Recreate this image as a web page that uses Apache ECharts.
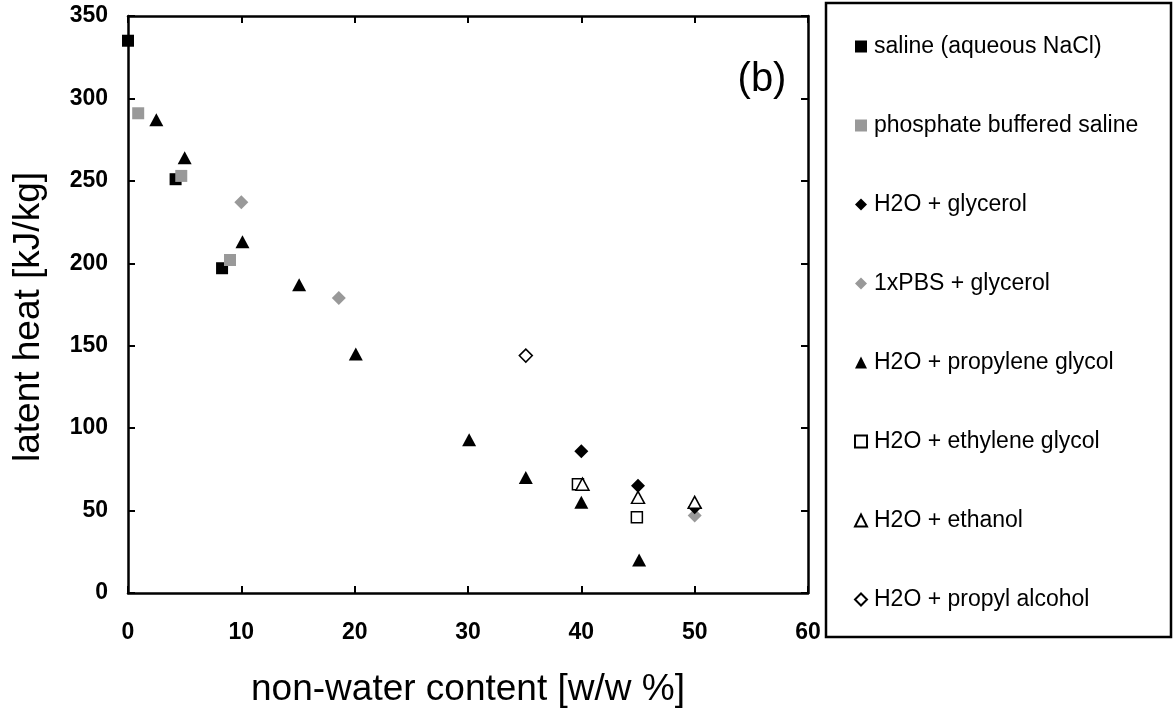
<!DOCTYPE html>
<html>
<head>
<meta charset="utf-8">
<script src="https://cdn.jsdelivr.net/npm/echarts@6/dist/echarts.min.js"></script>
<style>
  html, body { margin: 0; padding: 0; background: #fff; }
  #chart { width: 1176px; height: 712px; }
</style>
</head>
<body>
<div id="chart"></div>
<script>
// Latent heat of aqueous solutions vs. non-water content
const xTicks = [0, 10, 20, 30, 40, 50, 60];
const yTicks = [0, 50, 100, 150, 200, 250, 300, 350];

const saline = [[0, 335], [4.2, 251], [8.3, 197]];
const pbs = [[0.9, 291], [4.7, 253], [9.0, 202]];
const waterGlycerol = [[40, 86], [45, 65], [50, 52]];
const pbsGlycerol = [[10, 237], [18.6, 179], [50, 47]];
const propyleneGlycol = [[2.5, 287], [5, 264], [10.1, 213], [15.1, 187], [20.1, 145], [30.1, 93], [35.1, 70], [40, 55], [45.1, 20]];
const ethyleneGlycol = [[39.7, 66], [44.9, 46]];
const ethanol = [[40.1, 66], [45, 58], [50, 55]];
const propylAlcohol = [[35.1, 144]];

const seriesNames = [
  'saline (aqueous NaCl)',
  'phosphate buffered saline',
  'H2O + glycerol',
  '1xPBS + glycerol',
  'H2O + propylene glycol',
  'H2O + ethylene glycol',
  'H2O + ethanol',
  'H2O + propyl alcohol'
];

const FONT = '"Liberation Sans", Arial, sans-serif';
const GRID = { left: 128, right: 1176 - 808, top: 16, bottom: 712 - 593 };
const tickFont = { color: '#000', fontFamily: FONT, fontWeight: 'bold', fontSize: 23 };

function scatter(name, data, symbol, size, fill, stroke, sw) {
  return {
    name: name,
    type: 'scatter',
    data: data,
    symbol: symbol,
    symbolSize: size,
    itemStyle: { color: fill, borderColor: stroke || fill, borderWidth: sw || 0, opacity: 1 },
    emphasis: { disabled: true }
  };
}

const axisLine = { show: true, onZero: false, lineStyle: { color: '#000', width: 2.5 } };
const axisTick = { show: true, inside: true, length: 7, lineStyle: { color: '#000', width: 2 } };

const option = {
  backgroundColor: '#fff',
  animation: false,
  grid: GRID,
  xAxis: [
    {
      type: 'value', min: xTicks[0], max: xTicks[xTicks.length - 1], interval: 10,
      position: 'bottom',
      axisLine: axisLine, axisTick: axisTick, splitLine: { show: false },
      axisLabel: Object.assign({ margin: 28 }, tickFont)
    },
    {
      type: 'value', min: xTicks[0], max: xTicks[xTicks.length - 1], interval: 10,
      position: 'top',
      axisLine: axisLine, axisTick: axisTick, splitLine: { show: false },
      axisLabel: { show: false }
    }
  ],
  yAxis: [
    {
      type: 'value', min: yTicks[0], max: yTicks[yTicks.length - 1], interval: 50,
      position: 'left',
      axisLine: axisLine, axisTick: axisTick, splitLine: { show: false },
      axisLabel: Object.assign({ margin: 20 }, tickFont)
    },
    {
      type: 'value', min: yTicks[0], max: yTicks[yTicks.length - 1], interval: 50,
      position: 'right',
      axisLine: axisLine, axisTick: axisTick, splitLine: { show: false },
      axisLabel: { show: false }
    }
  ],
  legend: {
    orient: 'vertical',
    left: 854,
    top: 35,
    itemWidth: 12,
    itemHeight: 12,
    itemGap: 56,
    padding: 0,
    selectedMode: false,
    textStyle: { color: '#000', fontFamily: FONT, fontSize: 23, lineHeight: 22, padding: [0, 0, 0, 2] },
    data: seriesNames
  },
  graphic: [
    {
      type: 'rect',
      shape: { x: 826, y: 3, width: 345, height: 634 },
      style: { fill: 'none', stroke: '#000', lineWidth: 2.5 }
    },
    {
      type: 'text', x: 762, y: 80,
      style: { text: '(b)', fill: '#000', font: '40px ' + FONT, textAlign: 'center', textVerticalAlign: 'middle' }
    },
    {
      type: 'text', x: 468, y: 690,
      style: { text: 'non-water content [w/w %]', fill: '#000', font: '37px ' + FONT, textAlign: 'center', textVerticalAlign: 'middle' }
    },
    {
      type: 'text', x: 29, y: 317, rotation: Math.PI / 2,
      style: { text: 'latent heat [kJ/kg]', fill: '#000', font: '37px ' + FONT, textAlign: 'center', textVerticalAlign: 'middle' }
    }
  ],
  series: [
    scatter(seriesNames[0], saline, 'rect', 12, '#000'),
    scatter(seriesNames[1], pbs, 'rect', 12, '#999'),
    scatter(seriesNames[5], ethyleneGlycol, 'rect', 11, '#fff', '#000', 1.5),
    scatter(seriesNames[7], propylAlcohol, 'diamond', 13, '#fff', '#000', 1.5),
    scatter(seriesNames[4], propyleneGlycol, 'triangle', [14, 13], '#000'),
    scatter(seriesNames[3], pbsGlycerol, 'diamond', 14, '#999'),
    scatter(seriesNames[2], waterGlycerol, 'diamond', 14, '#000'),
    scatter(seriesNames[6], ethanol, 'triangle', [13, 12], '#fff', '#000', 1.5)
  ]
};

const chart = echarts.init(document.getElementById('chart'), null, { renderer: 'canvas' });
chart.setOption(option);
</script>
</body>
</html>
